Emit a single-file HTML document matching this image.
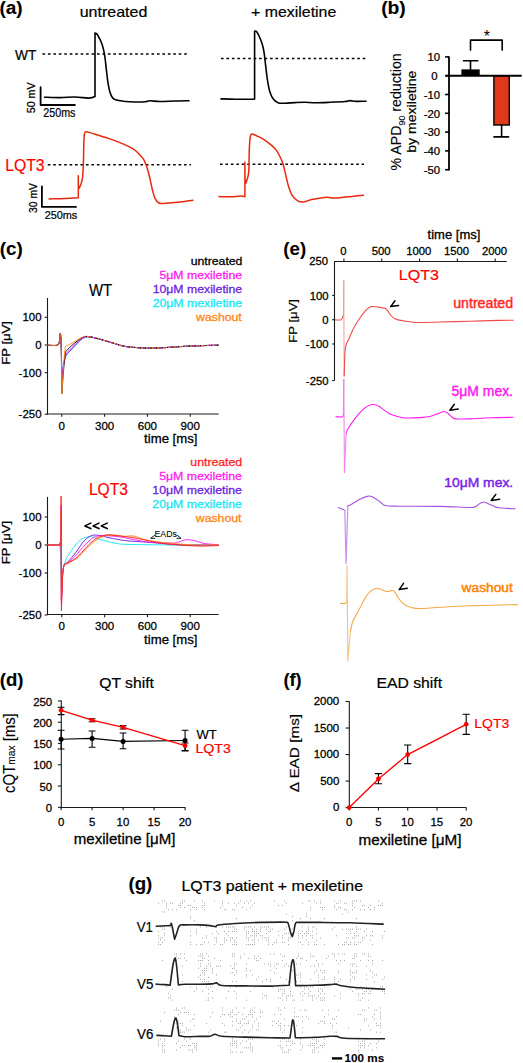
<!DOCTYPE html>
<html><head><meta charset="utf-8"><style>
html,body{margin:0;padding:0;background:#fff;}
svg{display:block;font-family:"Liberation Sans",sans-serif;}
</style></head><body>
<svg width="523" height="1063" viewBox="0 0 523 1063">
<text transform="translate(-0.55 14) scale(1.0395 1)" font-size="18.3" font-weight="bold" fill="#000" stroke="#000" stroke-width="0.10" >(a)</text>
<text transform="translate(79.66 16.55) scale(1.0704 1)" font-size="14.97" font-weight="normal" fill="#000" stroke="#000" stroke-width="0.20" >untreated</text>
<text transform="translate(251.11 16.55) scale(1.0613 1)" font-size="14.97" font-weight="normal" fill="#000" stroke="#000" stroke-width="0.20" >+ mexiletine</text>
<text transform="translate(15.03 59.95) scale(0.9615 1)" font-size="14.28" font-weight="normal" fill="#000" stroke="#000" stroke-width="0.20" >WT</text>
<text transform="translate(5.24 171.25) scale(0.9892 1)" font-size="15.93" font-weight="normal" fill="#ff0000" stroke="#ff0000" stroke-width="0.20" >LQT3</text>
<text transform="translate(43.36 116.65) scale(0.8662 1)" font-size="12.36" font-weight="normal" fill="#000" stroke="#000" stroke-width="0.22" >250ms</text>
<text transform="translate(44.66 218.95) scale(0.9227 1)" font-size="11.79" font-weight="normal" fill="#000" stroke="#000" stroke-width="0.23" >250ms</text>
<text transform="translate(34.9 113.23) rotate(-90) scale(1 0.9893)" font-size="10.69" font-weight="normal" fill="#000" stroke="#000" stroke-width="0.26">50 mV</text>
<text transform="translate(37.4 212.91) rotate(-90) scale(1 1.0506)" font-size="10.33" font-weight="normal" fill="#000" stroke="#000" stroke-width="0.26">30 mV</text>
<line x1="42.5" y1="54" x2="188" y2="54" stroke="#000" stroke-width="1.5" stroke-dasharray="2.6 2.85"/>
<line x1="221" y1="58.5" x2="366" y2="58.5" stroke="#000" stroke-width="1.5" stroke-dasharray="2.6 2.85"/>
<line x1="47.8" y1="164.8" x2="191" y2="164.8" stroke="#000" stroke-width="1.5" stroke-dasharray="2.6 2.85"/>
<line x1="220" y1="164.2" x2="364" y2="164.2" stroke="#000" stroke-width="1.5" stroke-dasharray="2.6 2.85"/>
<path d="M40.6 87.2L40.6 105L74.9 105" fill="none" stroke="#000" stroke-width="1.8" stroke-linejoin="round" stroke-linecap="round" />
<path d="M41.9 186.3L41.9 206.9L76 206.9" fill="none" stroke="#000" stroke-width="1.8" stroke-linejoin="round" stroke-linecap="round" />
<path d="M44.5 97.2C47.08 97.27 54.92 97.63 60 97.6C65.08 97.57 70.2 96.92 75 97C79.8 97.08 85.47 98.18 88.8 98.1C92.13 98.02 95 96.5 95 96.5C95 96.5 95 33.1 95 33.1C95 33.1 96.43 33.53 97 34.1C97.57 34.67 97.68 35.15 98.4 36.5C99.12 37.85 100.43 39.97 101.3 42.2C102.17 44.43 102.97 47.18 103.6 49.9C104.23 52.62 104.62 55 105.1 58.5C105.58 62 106.03 66.92 106.5 70.9C106.97 74.88 107.33 78.9 107.9 82.4C108.47 85.9 109.1 89.28 109.9 91.9C110.7 94.52 111.6 96.75 112.7 98.1C113.8 99.45 114.42 99.43 116.5 100C118.58 100.57 122.17 101.17 125.2 101.5C128.23 101.83 131.4 101.95 134.7 102C138 102.05 142.45 102 145 101.8C147.55 101.6 147.5 100.85 150 100.8C152.5 100.75 155.83 101.47 160 101.5C164.17 101.53 170.17 101.12 175 101C179.83 100.88 186.67 100.83 189 100.8" fill="none" stroke="#000" stroke-width="1.6" stroke-linejoin="round" stroke-linecap="round" />
<path d="M221 98.9C223.33 98.95 230.05 99.13 235 99.2C239.95 99.27 247.43 99.32 250.7 99.3C253.97 99.28 254.6 99.1 254.6 99.1C254.6 99.1 254.6 31.2 254.6 31.2C254.6 31.2 255.72 30.62 256.5 31.5C257.28 32.38 258.35 34.4 259.3 36.5C260.25 38.6 261.4 41.4 262.2 44.1C263 46.8 263.53 49.18 264.1 52.7C264.67 56.22 265.03 60.58 265.6 65.2C266.17 69.82 266.78 75.95 267.5 80.4C268.22 84.85 268.87 88.7 269.9 91.9C270.93 95.1 272.27 97.77 273.7 99.6C275.13 101.43 276.58 102.3 278.5 102.9C280.42 103.5 282.45 103.25 285.2 103.2C287.95 103.15 291.7 102.75 295 102.6C298.3 102.45 301.67 102.27 305 102.3C308.33 102.33 310.83 102.8 315 102.8C319.17 102.8 325 102.52 330 102.3C335 102.08 341.67 101.78 345 101.5C348.33 101.22 348.17 100.62 350 100.6C351.83 100.58 353.33 101.3 356 101.4C358.67 101.5 364.33 101.23 366 101.2" fill="none" stroke="#000" stroke-width="1.6" stroke-linejoin="round" stroke-linecap="round" />
<path d="M49.1 198.9C51.75 198.83 60.13 198.68 65 198.5C69.87 198.32 78.3 197.8 78.3 197.8C78.3 197.8 78.3 175.7 78.3 175.7C78.3 175.7 78.23 186.52 78.6 188.1C78.97 189.68 79.87 186.8 80.5 185.2C81.13 183.6 81.92 182.17 82.4 178.5C82.88 174.83 83.17 168.93 83.4 163.2C83.63 157.47 83.62 149.03 83.8 144.1C83.98 139.17 84.08 135.67 84.5 133.6C84.92 131.53 84.88 131.7 86.3 131.7C87.72 131.7 89.35 132.48 93 133.6C96.65 134.72 103.12 136.65 108.2 138.4C113.28 140.15 119.35 142.35 123.5 144.1C127.65 145.85 130.55 147.3 133.1 148.9C135.65 150.5 137.05 151.95 138.8 153.7C140.55 155.45 142.32 157.33 143.6 159.4C144.88 161.47 145.55 163.38 146.5 166.1C147.45 168.82 148.35 171.88 149.3 175.7C150.25 179.52 151.23 185.18 152.2 189C153.17 192.82 153.98 196.27 155.1 198.6C156.22 200.93 157.47 202.2 158.9 203C160.33 203.8 161.02 203.48 163.7 203.4C166.38 203.32 170.12 203.03 175 202.5C179.88 201.97 190 200.58 193 200.2" fill="none" stroke="#e6290f" stroke-width="1.5" stroke-linejoin="round" stroke-linecap="round" />
<path d="M219 196.6C220.83 196.63 226.38 196.88 230 196.8C233.62 196.72 238.22 196.12 240.7 196.1C243.18 196.08 244.9 196.7 244.9 196.7C244.9 196.7 244.9 162.3 244.9 162.3C244.9 162.3 244.88 179.7 245.3 182.4C245.72 185.1 246.82 180.42 247.4 178.5C247.98 176.58 248.48 175.67 248.8 170.9C249.12 166.13 249.05 155.63 249.3 149.9C249.55 144.17 249.82 139.15 250.3 136.5C250.78 133.85 251.25 134.17 252.2 134C253.15 133.83 254.08 134.62 256 135.5C257.92 136.38 261.15 137.7 263.7 139.3C266.25 140.9 269.23 143.33 271.3 145.1C273.37 146.87 274.67 148 276.1 149.9C277.53 151.8 278.78 154.28 279.9 156.5C281.02 158.72 281.83 160.17 282.8 163.2C283.77 166.23 284.75 170.87 285.7 174.7C286.65 178.53 287.38 182.7 288.5 186.2C289.62 189.7 290.8 193.22 292.4 195.7C294 198.18 296.2 200.07 298.1 201.1C300 202.13 301.57 202.15 303.8 201.9C306.03 201.65 308.95 200.22 311.5 199.6C314.05 198.98 316.55 198.58 319.1 198.2C321.65 197.82 324.15 197.33 326.8 197.3C329.45 197.27 331.97 198.05 335 198C338.03 197.95 342.17 197.25 345 197C347.83 196.75 348.92 196.78 352 196.5C355.08 196.22 361.58 195.5 363.5 195.3" fill="none" stroke="#e6290f" stroke-width="1.5" stroke-linejoin="round" stroke-linecap="round" />
<text transform="translate(381.13 14) scale(1.0558 1)" font-size="18.3" font-weight="bold" fill="#000" stroke="#000" stroke-width="0.10" >(b)</text>
<line x1="449" y1="56.5" x2="449" y2="170.4" stroke="#000" stroke-width="1.8" />
<line x1="445.1" y1="56.9" x2="449" y2="56.9" stroke="#000" stroke-width="1.6" />
<text transform="translate(427.51 61.12) scale(1.0385 1)" font-size="10.92" font-weight="normal" fill="#000" stroke="#000" stroke-width="0.25">10</text>
<line x1="445.1" y1="75.7" x2="449" y2="75.7" stroke="#000" stroke-width="1.6" />
<text transform="translate(431.3 79.92) scale(1.0385 1)" font-size="10.92" font-weight="normal" fill="#000" stroke="#000" stroke-width="0.25">0</text>
<line x1="445.1" y1="94.5" x2="449" y2="94.5" stroke="#000" stroke-width="1.6" />
<text transform="translate(423.71 98.72) scale(1.0385 1)" font-size="10.92" font-weight="normal" fill="#000" stroke="#000" stroke-width="0.25">-10</text>
<line x1="445.1" y1="113.3" x2="449" y2="113.3" stroke="#000" stroke-width="1.6" />
<text transform="translate(423.71 117.52) scale(1.0385 1)" font-size="10.92" font-weight="normal" fill="#000" stroke="#000" stroke-width="0.25">-20</text>
<line x1="445.1" y1="132.1" x2="449" y2="132.1" stroke="#000" stroke-width="1.6" />
<text transform="translate(423.71 136.32) scale(1.0385 1)" font-size="10.92" font-weight="normal" fill="#000" stroke="#000" stroke-width="0.25">-30</text>
<line x1="445.1" y1="150.9" x2="449" y2="150.9" stroke="#000" stroke-width="1.6" />
<text transform="translate(423.71 155.12) scale(1.0385 1)" font-size="10.92" font-weight="normal" fill="#000" stroke="#000" stroke-width="0.25">-40</text>
<line x1="445.1" y1="169.7" x2="449" y2="169.7" stroke="#000" stroke-width="1.6" />
<text transform="translate(423.71 173.92) scale(1.0385 1)" font-size="10.92" font-weight="normal" fill="#000" stroke="#000" stroke-width="0.25">-50</text>
<rect x="461.4" y="69.4" width="18.3" height="6.3" fill="#000"/>
<rect x="493.9" y="75.8" width="15.4" height="49.2" fill="#e0381c" stroke="#000" stroke-width="1.4"/>
<line x1="445.6" y1="75.8" x2="521.7" y2="75.8" stroke="#000" stroke-width="2" />
<path d="M470.5 69.4L470.5 60.7M463.5 60.7L477.8 60.7" fill="none" stroke="#000" stroke-width="1.6" stroke-linejoin="round" stroke-linecap="round" />
<path d="M501.6 125L501.6 136.9M494 136.9L508.6 136.9" fill="none" stroke="#000" stroke-width="1.6" stroke-linejoin="round" stroke-linecap="round" />
<path d="M470.5 50.1L470.5 40.1L502.2 40.1L502.2 50.1" fill="none" stroke="#000" stroke-width="1.6" stroke-linejoin="round" stroke-linecap="round" />
<text x="483.7" y="41.5" font-size="16">*</text>
<text transform="translate(400.7 170.4) rotate(-90)" font-size="14.2" stroke="#000" stroke-width="0.1"><tspan>% APD</tspan><tspan font-size="8.8" dy="4.7">90</tspan><tspan dy="-4.7"> reduction</tspan></text>
<text transform="translate(416.3 152.82) rotate(-90) scale(1 0.8709)" font-size="14.1" font-weight="normal" fill="#000" stroke="#000" stroke-width="0.20">by mexiletine</text>
<text transform="translate(-0.34 254.8) scale(1.0298 1)" font-size="18.3" font-weight="bold" fill="#000" stroke="#000" stroke-width="0.10" >(c)</text>
<text transform="translate(190.65 265) scale(1.1800 1)" font-size="10.4" font-weight="normal" fill="#000" stroke="#000" stroke-width="0.26">untreated</text>
<text transform="translate(159.48 278.98) scale(1.1800 1)" font-size="10.4" font-weight="normal" fill="#ff19f0" stroke="#ff19f0" stroke-width="0.26">5μM mexiletine</text>
<text transform="translate(152.67 292.96) scale(1.1800 1)" font-size="10.4" font-weight="normal" fill="#6a1de0" stroke="#6a1de0" stroke-width="0.26">10μM mexiletine</text>
<text transform="translate(152.67 306.94) scale(1.1800 1)" font-size="10.4" font-weight="normal" fill="#14e6f5" stroke="#14e6f5" stroke-width="0.26">20μM mexiletine</text>
<text transform="translate(196.11 320.92) scale(1.1800 1)" font-size="10.4" font-weight="normal" fill="#ff8418" stroke="#ff8418" stroke-width="0.26">washout</text>
<text transform="translate(88.93 295.55) scale(0.8751 1)" font-size="17.03" font-weight="normal" fill="#000" stroke="#000" stroke-width="0.20" >WT</text>
<line x1="47.5" y1="298" x2="47.5" y2="414.5" stroke="#1a1a1a" stroke-width="1.1" />
<line x1="47" y1="414" x2="218.6" y2="414" stroke="#1a1a1a" stroke-width="1.1" />
<line x1="44.7" y1="317.3" x2="47.5" y2="317.3" stroke="#1a1a1a" stroke-width="1.1" />
<text transform="translate(22.45 321.49) scale(1.0577 1)" font-size="10.82" font-weight="normal" fill="#000" stroke="#000" stroke-width="0.25">100</text>
<line x1="44.7" y1="345" x2="47.5" y2="345" stroke="#1a1a1a" stroke-width="1.1" />
<text transform="translate(35.15 349.19) scale(1.0577 1)" font-size="10.82" font-weight="normal" fill="#000" stroke="#000" stroke-width="0.25">0</text>
<line x1="44.7" y1="372.7" x2="47.5" y2="372.7" stroke="#1a1a1a" stroke-width="1.1" />
<text transform="translate(18.62 376.89) scale(1.0577 1)" font-size="10.82" font-weight="normal" fill="#000" stroke="#000" stroke-width="0.25">-100</text>
<line x1="44.7" y1="414.25" x2="47.5" y2="414.25" stroke="#1a1a1a" stroke-width="1.1" />
<text transform="translate(18.62 418.44) scale(1.0577 1)" font-size="10.82" font-weight="normal" fill="#000" stroke="#000" stroke-width="0.25">-250</text>
<line x1="61.8" y1="414" x2="61.8" y2="416.8" stroke="#1a1a1a" stroke-width="1.1" />
<text transform="translate(58.57 429.52) scale(1.0577 1)" font-size="10.92" font-weight="normal" fill="#000" stroke="#000" stroke-width="0.25">0</text>
<line x1="104.61" y1="414" x2="104.61" y2="416.8" stroke="#1a1a1a" stroke-width="1.1" />
<text transform="translate(94.97 429.52) scale(1.0577 1)" font-size="10.92" font-weight="normal" fill="#000" stroke="#000" stroke-width="0.25">300</text>
<line x1="147.42" y1="414" x2="147.42" y2="416.8" stroke="#1a1a1a" stroke-width="1.1" />
<text transform="translate(137.72 429.52) scale(1.0577 1)" font-size="10.92" font-weight="normal" fill="#000" stroke="#000" stroke-width="0.25">600</text>
<line x1="190.23" y1="414" x2="190.23" y2="416.8" stroke="#1a1a1a" stroke-width="1.1" />
<text transform="translate(180.56 429.52) scale(1.0577 1)" font-size="10.92" font-weight="normal" fill="#000" stroke="#000" stroke-width="0.25">900</text>
<text transform="translate(144.1 443.15) scale(1.0325 1)" font-size="12.76" font-weight="normal" fill="#000" stroke="#000" stroke-width="0.30" >time [ms]</text>
<text transform="translate(10.4 364.65) rotate(-90) scale(1 0.8639)" font-size="13.09" font-weight="normal" fill="#000" stroke="#000" stroke-width="0.35">FP [μV]</text>
<path d="M48 345.2C49.53 345.2 55.28 345.9 57.2 345.2C59.12 344.5 58.98 342.97 59.5 341C60.02 339.03 60.02 332.73 60.3 333.4C60.58 334.07 60.95 338.23 61.2 345C61.45 351.77 61.8 374 61.8 374C61.8 374 64.32 360.8 65.6 357.1C66.88 353.4 67.93 353.65 69.5 351.8C71.07 349.95 72.92 348.13 75 346C77.08 343.87 79.83 340.53 82 339C84.17 337.47 85.25 336.83 88 336.8C90.75 336.77 94.2 337.72 98.5 338.8C102.8 339.88 109.38 342.03 113.8 343.3C118.22 344.57 120.63 345.65 125 346.4C129.37 347.15 135.83 347.5 140 347.8C144.17 348.1 145.83 348.23 150 348.2C154.17 348.17 160 347.87 165 347.6C170 347.33 174.17 346.92 180 346.6C185.83 346.28 193.58 345.93 200 345.7C206.42 345.47 215.42 345.28 218.5 345.2" fill="none" stroke="#14e6f5" stroke-width="0.9" stroke-linejoin="round" stroke-linecap="round" />
<path d="M48 345.2C49.53 345.2 55.28 345.9 57.2 345.2C59.12 344.5 58.98 342.97 59.5 341C60.02 339.03 60.02 332.73 60.3 333.4C60.58 334.07 60.95 338.07 61.2 345C61.45 351.93 61.8 375 61.8 375C61.8 375 64.32 360.42 65.6 356.5C66.88 352.58 67.93 353.33 69.5 351.5C71.07 349.67 72.92 347.62 75 345.5C77.08 343.38 79.83 340.25 82 338.8C84.17 337.35 85.25 336.8 88 336.8C90.75 336.8 94.2 337.72 98.5 338.8C102.8 339.88 109.38 342.03 113.8 343.3C118.22 344.57 120.63 345.65 125 346.4C129.37 347.15 135.83 347.5 140 347.8C144.17 348.1 145.83 348.23 150 348.2C154.17 348.17 160 347.87 165 347.6C170 347.33 174.17 346.92 180 346.6C185.83 346.28 193.58 345.93 200 345.7C206.42 345.47 215.42 345.28 218.5 345.2" fill="none" stroke="#6a1de0" stroke-width="0.9" stroke-linejoin="round" stroke-linecap="round" />
<path d="M48 345.2C49.53 345.2 55.28 345.9 57.2 345.2C59.12 344.5 58.98 342.97 59.5 341C60.02 339.03 60.02 332.73 60.3 333.4C60.58 334.07 60.95 337.23 61.2 345C61.45 352.77 61.8 380 61.8 380C61.8 380 64 360.87 65.2 356C66.4 351.13 67.45 352.63 69 350.8C70.55 348.97 72.33 347.05 74.5 345C76.67 342.95 79.75 339.9 82 338.5C84.25 337.1 85.25 336.55 88 336.6C90.75 336.65 94.2 337.68 98.5 338.8C102.8 339.92 109.38 342.03 113.8 343.3C118.22 344.57 120.63 345.65 125 346.4C129.37 347.15 135.83 347.5 140 347.8C144.17 348.1 145.83 348.23 150 348.2C154.17 348.17 160 347.87 165 347.6C170 347.33 174.17 346.92 180 346.6C185.83 346.28 193.58 345.93 200 345.7C206.42 345.47 215.42 345.28 218.5 345.2" fill="none" stroke="#ff19f0" stroke-width="0.9" stroke-linejoin="round" stroke-linecap="round" />
<path d="M48 345.2C49.53 345.2 55.28 345.9 57.2 345.2C59.12 344.5 58.98 342.97 59.5 341C60.02 339.03 60.02 332.73 60.3 333.4C60.58 334.07 60.95 334.93 61.2 345C61.45 355.07 61.8 393.8 61.8 393.8C61.8 393.8 64 362.87 64.9 355.6C65.8 348.33 65.93 351.98 67.2 350.2C68.47 348.42 70.08 346.93 72.5 344.9C74.92 342.87 79.15 339.4 81.7 338C84.25 336.6 85 336.37 87.8 336.5C90.6 336.63 94.17 337.67 98.5 338.8C102.83 339.93 109.38 342.03 113.8 343.3C118.22 344.57 120.63 345.65 125 346.4C129.37 347.15 135.83 347.5 140 347.8C144.17 348.1 145.83 348.23 150 348.2C154.17 348.17 160 347.87 165 347.6C170 347.33 174.17 346.92 180 346.6C185.83 346.28 193.58 345.93 200 345.7C206.42 345.47 215.42 345.28 218.5 345.2" fill="none" stroke="#000" stroke-width="0.9" stroke-linejoin="round" stroke-linecap="round" />
<path d="M48 345.2C49.53 345.2 55.28 345.9 57.2 345.2C59.12 344.5 58.98 342.97 59.5 341C60.02 339.03 60.02 332.73 60.3 333.4C60.58 334.07 60.95 334.93 61.2 345C61.45 355.07 61.8 393.8 61.8 393.8C61.8 393.8 63.88 358.03 64.9 350C65.92 341.97 66.38 346.93 67.9 345.6C69.42 344.27 71.7 343.35 74 342C76.3 340.65 79.4 338.42 81.7 337.5C84 336.58 85 336.28 87.8 336.5C90.6 336.72 94.17 337.67 98.5 338.8C102.83 339.93 109.38 342.03 113.8 343.3C118.22 344.57 120.63 345.65 125 346.4C129.37 347.15 135.83 347.5 140 347.8C144.17 348.1 145.83 348.23 150 348.2C154.17 348.17 160 347.87 165 347.6C170 347.33 174.17 346.92 180 346.6C185.83 346.28 193.58 345.93 200 345.7C206.42 345.47 215.42 345.28 218.5 345.2" fill="none" stroke="#ff8418" stroke-width="0.9" stroke-linejoin="round" stroke-linecap="round" />
<clipPath id="wtclip"><rect x="84" y="300" width="140" height="60"/></clipPath>
<g clip-path="url(#wtclip)">
<path d="M48 345.2C49.53 345.2 55.28 345.9 57.2 345.2C59.12 344.5 58.98 342.97 59.5 341C60.02 339.03 60.02 332.73 60.3 333.4C60.58 334.07 60.95 338.23 61.2 345C61.45 351.77 61.8 374 61.8 374C61.8 374 64.32 360.8 65.6 357.1C66.88 353.4 67.93 353.65 69.5 351.8C71.07 349.95 72.92 348.13 75 346C77.08 343.87 79.83 340.53 82 339C84.17 337.47 85.25 336.83 88 336.8C90.75 336.77 94.2 337.72 98.5 338.8C102.8 339.88 109.38 342.03 113.8 343.3C118.22 344.57 120.63 345.65 125 346.4C129.37 347.15 135.83 347.5 140 347.8C144.17 348.1 145.83 348.23 150 348.2C154.17 348.17 160 347.87 165 347.6C170 347.33 174.17 346.92 180 346.6C185.83 346.28 193.58 345.93 200 345.7C206.42 345.47 215.42 345.28 218.5 345.2" fill="none" stroke="#14e6f5" stroke-width="1.2" stroke-linejoin="round" stroke-linecap="butt" stroke-dasharray="1.1 4.4" stroke-dashoffset="0"/>
<path d="M48 345.2C49.53 345.2 55.28 345.9 57.2 345.2C59.12 344.5 58.98 342.97 59.5 341C60.02 339.03 60.02 332.73 60.3 333.4C60.58 334.07 60.95 338.07 61.2 345C61.45 351.93 61.8 375 61.8 375C61.8 375 64.32 360.42 65.6 356.5C66.88 352.58 67.93 353.33 69.5 351.5C71.07 349.67 72.92 347.62 75 345.5C77.08 343.38 79.83 340.25 82 338.8C84.17 337.35 85.25 336.8 88 336.8C90.75 336.8 94.2 337.72 98.5 338.8C102.8 339.88 109.38 342.03 113.8 343.3C118.22 344.57 120.63 345.65 125 346.4C129.37 347.15 135.83 347.5 140 347.8C144.17 348.1 145.83 348.23 150 348.2C154.17 348.17 160 347.87 165 347.6C170 347.33 174.17 346.92 180 346.6C185.83 346.28 193.58 345.93 200 345.7C206.42 345.47 215.42 345.28 218.5 345.2" fill="none" stroke="#6a1de0" stroke-width="1.2" stroke-linejoin="round" stroke-linecap="butt" stroke-dasharray="1.1 4.4" stroke-dashoffset="1.1"/>
<path d="M48 345.2C49.53 345.2 55.28 345.9 57.2 345.2C59.12 344.5 58.98 342.97 59.5 341C60.02 339.03 60.02 332.73 60.3 333.4C60.58 334.07 60.95 337.23 61.2 345C61.45 352.77 61.8 380 61.8 380C61.8 380 64 360.87 65.2 356C66.4 351.13 67.45 352.63 69 350.8C70.55 348.97 72.33 347.05 74.5 345C76.67 342.95 79.75 339.9 82 338.5C84.25 337.1 85.25 336.55 88 336.6C90.75 336.65 94.2 337.68 98.5 338.8C102.8 339.92 109.38 342.03 113.8 343.3C118.22 344.57 120.63 345.65 125 346.4C129.37 347.15 135.83 347.5 140 347.8C144.17 348.1 145.83 348.23 150 348.2C154.17 348.17 160 347.87 165 347.6C170 347.33 174.17 346.92 180 346.6C185.83 346.28 193.58 345.93 200 345.7C206.42 345.47 215.42 345.28 218.5 345.2" fill="none" stroke="#ff19f0" stroke-width="1.2" stroke-linejoin="round" stroke-linecap="butt" stroke-dasharray="1.1 4.4" stroke-dashoffset="2.2"/>
<path d="M48 345.2C49.53 345.2 55.28 345.9 57.2 345.2C59.12 344.5 58.98 342.97 59.5 341C60.02 339.03 60.02 332.73 60.3 333.4C60.58 334.07 60.95 334.93 61.2 345C61.45 355.07 61.8 393.8 61.8 393.8C61.8 393.8 64 362.87 64.9 355.6C65.8 348.33 65.93 351.98 67.2 350.2C68.47 348.42 70.08 346.93 72.5 344.9C74.92 342.87 79.15 339.4 81.7 338C84.25 336.6 85 336.37 87.8 336.5C90.6 336.63 94.17 337.67 98.5 338.8C102.83 339.93 109.38 342.03 113.8 343.3C118.22 344.57 120.63 345.65 125 346.4C129.37 347.15 135.83 347.5 140 347.8C144.17 348.1 145.83 348.23 150 348.2C154.17 348.17 160 347.87 165 347.6C170 347.33 174.17 346.92 180 346.6C185.83 346.28 193.58 345.93 200 345.7C206.42 345.47 215.42 345.28 218.5 345.2" fill="none" stroke="#000" stroke-width="1.2" stroke-linejoin="round" stroke-linecap="butt" stroke-dasharray="1.1 4.4" stroke-dashoffset="3.3"/>
<path d="M48 345.2C49.53 345.2 55.28 345.9 57.2 345.2C59.12 344.5 58.98 342.97 59.5 341C60.02 339.03 60.02 332.73 60.3 333.4C60.58 334.07 60.95 334.93 61.2 345C61.45 355.07 61.8 393.8 61.8 393.8C61.8 393.8 63.88 358.03 64.9 350C65.92 341.97 66.38 346.93 67.9 345.6C69.42 344.27 71.7 343.35 74 342C76.3 340.65 79.4 338.42 81.7 337.5C84 336.58 85 336.28 87.8 336.5C90.6 336.72 94.17 337.67 98.5 338.8C102.83 339.93 109.38 342.03 113.8 343.3C118.22 344.57 120.63 345.65 125 346.4C129.37 347.15 135.83 347.5 140 347.8C144.17 348.1 145.83 348.23 150 348.2C154.17 348.17 160 347.87 165 347.6C170 347.33 174.17 346.92 180 346.6C185.83 346.28 193.58 345.93 200 345.7C206.42 345.47 215.42 345.28 218.5 345.2" fill="none" stroke="#ff8418" stroke-width="1.2" stroke-linejoin="round" stroke-linecap="butt" stroke-dasharray="1.1 4.4" stroke-dashoffset="4.4"/>
</g>
<text transform="translate(190.35 465.8) scale(1.1800 1)" font-size="10.4" font-weight="normal" fill="#ff1e1e" stroke="#ff1e1e" stroke-width="0.26">untreated</text>
<text transform="translate(159.18 479.78) scale(1.1800 1)" font-size="10.4" font-weight="normal" fill="#ff19f0" stroke="#ff19f0" stroke-width="0.26">5μM mexiletine</text>
<text transform="translate(152.37 493.76) scale(1.1800 1)" font-size="10.4" font-weight="normal" fill="#6a1de0" stroke="#6a1de0" stroke-width="0.26">10μM mexiletine</text>
<text transform="translate(152.37 507.74) scale(1.1800 1)" font-size="10.4" font-weight="normal" fill="#14e6f5" stroke="#14e6f5" stroke-width="0.26">20μM mexiletine</text>
<text transform="translate(195.81 521.72) scale(1.1800 1)" font-size="10.4" font-weight="normal" fill="#ff8418" stroke="#ff8418" stroke-width="0.26">washout</text>
<text transform="translate(88.95 495.05) scale(0.9786 1)" font-size="15.93" font-weight="normal" fill="#ff0000" stroke="#ff0000" stroke-width="0.20" >LQT3</text>
<line x1="47.5" y1="496.9" x2="47.5" y2="615" stroke="#1a1a1a" stroke-width="1.1" />
<line x1="47" y1="614.5" x2="218.6" y2="614.5" stroke="#1a1a1a" stroke-width="1.1" />
<line x1="44.7" y1="517" x2="47.5" y2="517" stroke="#1a1a1a" stroke-width="1.1" />
<text transform="translate(22.45 521.19) scale(1.0577 1)" font-size="10.82" font-weight="normal" fill="#000" stroke="#000" stroke-width="0.25">100</text>
<line x1="44.7" y1="545" x2="47.5" y2="545" stroke="#1a1a1a" stroke-width="1.1" />
<text transform="translate(35.15 549.19) scale(1.0577 1)" font-size="10.82" font-weight="normal" fill="#000" stroke="#000" stroke-width="0.25">0</text>
<line x1="44.7" y1="573" x2="47.5" y2="573" stroke="#1a1a1a" stroke-width="1.1" />
<text transform="translate(18.62 577.19) scale(1.0577 1)" font-size="10.82" font-weight="normal" fill="#000" stroke="#000" stroke-width="0.25">-100</text>
<line x1="44.7" y1="615" x2="47.5" y2="615" stroke="#1a1a1a" stroke-width="1.1" />
<text transform="translate(18.62 619.19) scale(1.0577 1)" font-size="10.82" font-weight="normal" fill="#000" stroke="#000" stroke-width="0.25">-250</text>
<line x1="61.8" y1="614.5" x2="61.8" y2="617.3" stroke="#1a1a1a" stroke-width="1.1" />
<text transform="translate(58.57 630.02) scale(1.0577 1)" font-size="10.92" font-weight="normal" fill="#000" stroke="#000" stroke-width="0.25">0</text>
<line x1="104.61" y1="614.5" x2="104.61" y2="617.3" stroke="#1a1a1a" stroke-width="1.1" />
<text transform="translate(94.97 630.02) scale(1.0577 1)" font-size="10.92" font-weight="normal" fill="#000" stroke="#000" stroke-width="0.25">300</text>
<line x1="147.42" y1="614.5" x2="147.42" y2="617.3" stroke="#1a1a1a" stroke-width="1.1" />
<text transform="translate(137.72 630.02) scale(1.0577 1)" font-size="10.92" font-weight="normal" fill="#000" stroke="#000" stroke-width="0.25">600</text>
<line x1="190.23" y1="614.5" x2="190.23" y2="617.3" stroke="#1a1a1a" stroke-width="1.1" />
<text transform="translate(180.56 630.02) scale(1.0577 1)" font-size="10.92" font-weight="normal" fill="#000" stroke="#000" stroke-width="0.25">900</text>
<text transform="translate(144.1 643.65) scale(1.0325 1)" font-size="12.76" font-weight="normal" fill="#000" stroke="#000" stroke-width="0.30" >time [ms]</text>
<text transform="translate(10.4 564.34) rotate(-90) scale(1 0.8659)" font-size="13.06" font-weight="normal" fill="#000" stroke="#000" stroke-width="0.35">FP [μV]</text>
<path d="M48 545C49.8 545 56.75 544.1 58.8 545C60.85 545.9 60.05 550.23 60.3 550.4C60.55 550.57 60.12 539.4 60.3 546C60.48 552.6 61.4 590 61.4 590C61.4 590 62.6 575 62.6 575C62.6 575 63.22 568.2 64.1 565C64.98 561.8 65.98 559.13 67.9 555.8C69.82 552.47 73.3 547.8 75.6 545C77.9 542.2 79.92 540.27 81.7 539C83.48 537.73 84.77 537.8 86.3 537.4C87.83 537 89.12 536.4 90.9 536.6C92.68 536.8 94.45 537.83 97 538.6C99.55 539.37 102.88 540.38 106.2 541.2C109.52 542.02 113.77 542.98 116.9 543.5C120.03 544.02 120.15 544.1 125 544.3C129.85 544.5 136.83 544.57 146 544.7C155.17 544.83 167.93 545.05 180 545.1C192.07 545.15 212 545.02 218.4 545" fill="none" stroke="#14e6f5" stroke-width="0.95" stroke-linejoin="round" stroke-linecap="round" />
<path d="M48 545C49.8 545 56.62 545 58.8 545C60.98 545 61.1 545 61.1 545C61.1 545 61.1 520 61.1 520C61.1 520 61.4 600 61.4 600C61.4 600 62.6 575 62.6 575C62.6 575 63.22 567.18 64.1 565C64.98 562.82 65.98 563.95 67.9 561.9C69.82 559.85 73.05 556.02 75.6 552.7C78.15 549.38 80.92 544.68 83.2 542C85.48 539.32 87.52 537.75 89.3 536.6C91.08 535.45 92.12 535.27 93.9 535.1C95.68 534.93 97.45 535.17 100 535.6C102.55 536.03 105.12 536.88 109.2 537.7C113.28 538.52 118.37 539.77 124.5 540.5C130.63 541.23 136.75 541.4 146 542.1C155.25 542.8 167.93 544.22 180 544.7C192.07 545.18 212 544.95 218.4 545" fill="none" stroke="#6a1de0" stroke-width="0.95" stroke-linejoin="round" stroke-linecap="round" />
<path d="M48 545C49.8 545 56.62 545 58.8 545C60.98 545 61.1 545 61.1 545C61.1 545 61.1 505 61.1 505C61.1 505 61.4 605 61.4 605C61.4 605 62.6 575 62.6 575C62.6 575 63.22 567.07 64.1 565C64.98 562.93 65.98 564.13 67.9 562.6C69.82 561.07 72.78 558.73 75.6 555.8C78.42 552.87 82 547.93 84.8 545C87.6 542.07 90.12 539.72 92.4 538.2C94.68 536.68 96.2 536.33 98.5 535.9C100.8 535.47 103.13 535.48 106.2 535.6C109.27 535.72 113.85 536.25 116.9 536.6C119.95 536.95 119.65 536.85 124.5 537.7C129.35 538.55 138.42 540.8 146 541.7C153.58 542.6 164.63 543.03 170 543.1C175.37 543.17 175.48 542.67 178.2 542.1C180.92 541.53 183.28 539.87 186.3 539.7C189.32 539.53 193.3 540.47 196.3 541.1C199.3 541.73 200.62 542.9 204.3 543.5C207.98 544.1 216.05 544.5 218.4 544.7" fill="none" stroke="#ff19f0" stroke-width="0.95" stroke-linejoin="round" stroke-linecap="round" />
<path d="M48 545C49.8 545 56.62 545 58.8 545C60.98 545 61.1 545 61.1 545C61.1 545 61.1 510 61.1 510C61.1 510 61.4 600 61.4 600C61.4 600 62.6 575 62.6 575C62.6 575 63.22 567.07 64.1 565C64.98 562.93 65.73 563.77 67.9 562.6C70.07 561.43 74.03 560.28 77.1 558C80.17 555.72 83.23 551.82 86.3 548.9C89.37 545.98 92.7 542.55 95.5 540.5C98.3 538.45 100.82 537.5 103.1 536.6C105.38 535.7 106.65 535.3 109.2 535.1C111.75 534.9 115.85 535.2 118.4 535.4C120.95 535.6 121.88 536.18 124.5 536.3C127.12 536.42 130.5 535.47 134.1 536.1C137.7 536.73 141.75 539.1 146.1 540.1C150.45 541.1 154.52 541.43 160.2 542.1C165.88 542.77 173.52 543.6 180.2 544.1C186.88 544.6 193.93 545 200.3 545.1C206.67 545.2 215.38 544.77 218.4 544.7" fill="none" stroke="#ff8418" stroke-width="0.95" stroke-linejoin="round" stroke-linecap="round" />
<path d="M48 545C49.8 545 56.88 545.37 58.8 545C60.72 544.63 59.12 542.8 59.5 542.8C59.88 542.8 61.1 545 61.1 545C61.1 545 61.1 496.1 61.1 496.1C61.1 496.1 61.4 610.8 61.4 610.8C61.4 610.8 62.6 575 62.6 575C62.6 575 63.22 566.93 64.1 565C64.98 563.07 65.73 564.68 67.9 563.4C70.07 562.12 74.03 559.98 77.1 557.3C80.17 554.62 83.23 550.37 86.3 547.3C89.37 544.23 92.7 540.85 95.5 538.9C98.3 536.95 100.82 536.28 103.1 535.6C105.38 534.92 106.65 534.75 109.2 534.8C111.75 534.85 115.85 535.6 118.4 535.9C120.95 536.2 122.23 536.33 124.5 536.6C126.77 536.87 128.4 536.92 132 537.5C135.6 538.08 141.4 539.17 146.1 540.1C150.8 541.03 154.52 542.27 160.2 543.1C165.88 543.93 173.52 544.6 180.2 545.1C186.88 545.6 193.93 546.03 200.3 546.1C206.67 546.17 215.38 545.6 218.4 545.5" fill="none" stroke="#ff2020" stroke-width="0.95" stroke-linejoin="round" stroke-linecap="round" />
<path d="M90.8 523.1L84.9 525.9L90.8 528.6" fill="none" stroke="#000" stroke-width="1.6" stroke-linejoin="round" stroke-linecap="round" />
<path d="M99 523.1L93.1 525.9L99 528.6" fill="none" stroke="#000" stroke-width="1.6" stroke-linejoin="round" stroke-linecap="round" />
<path d="M107.2 523.1L101.3 525.9L107.2 528.6" fill="none" stroke="#000" stroke-width="1.6" stroke-linejoin="round" stroke-linecap="round" />
<text transform="translate(154.5 537.35) scale(0.9339 1)" font-size="9.35" font-weight="normal" fill="#000" stroke="#000" stroke-width="0.08" >EADs</text>
<path d="M154.6 535.3L150.7 538.3L154.8 538.3" fill="none" stroke="#000" stroke-width="0.9" stroke-linejoin="round" stroke-linecap="round" />
<path d="M177.2 535.3L181.1 538.3L177 538.3" fill="none" stroke="#000" stroke-width="0.9" stroke-linejoin="round" stroke-linecap="round" />
<text transform="translate(283.37 254.8) scale(1.0200 1)" font-size="18.3" font-weight="bold" fill="#000" stroke="#000" stroke-width="0.10" >(e)</text>
<line x1="334" y1="261.5" x2="506.8" y2="261.5" stroke="#1a1a1a" stroke-width="1.1" />
<line x1="334.5" y1="261.5" x2="334.5" y2="380.6" stroke="#1a1a1a" stroke-width="1.1" />
<line x1="343.9" y1="258.6" x2="343.9" y2="261.5" stroke="#1a1a1a" stroke-width="1.1" />
<text transform="translate(340.13 254.68) scale(1.0769 1)" font-size="10.5" font-weight="normal" fill="#000" stroke="#000" stroke-width="0.26">0</text>
<line x1="381.72" y1="258.6" x2="381.72" y2="261.5" stroke="#1a1a1a" stroke-width="1.1" />
<text transform="translate(371.68 254.68) scale(1.0769 1)" font-size="10.5" font-weight="normal" fill="#000" stroke="#000" stroke-width="0.26">500</text>
<line x1="419.55" y1="258.6" x2="419.55" y2="261.5" stroke="#1a1a1a" stroke-width="1.1" />
<text transform="translate(406.14 254.68) scale(1.0769 1)" font-size="10.5" font-weight="normal" fill="#000" stroke="#000" stroke-width="0.26">1000</text>
<line x1="457.38" y1="258.6" x2="457.38" y2="261.5" stroke="#1a1a1a" stroke-width="1.1" />
<text transform="translate(443.96 254.68) scale(1.0769 1)" font-size="10.5" font-weight="normal" fill="#000" stroke="#000" stroke-width="0.26">1500</text>
<line x1="495.2" y1="258.6" x2="495.2" y2="261.5" stroke="#1a1a1a" stroke-width="1.1" />
<text transform="translate(481.93 254.68) scale(1.0769 1)" font-size="10.5" font-weight="normal" fill="#000" stroke="#000" stroke-width="0.26">2000</text>
<text transform="translate(427.6 239.15) scale(1.0098 1)" font-size="12.9" font-weight="normal" fill="#000" stroke="#000" stroke-width="0.30" >time [ms]</text>
<text transform="translate(309.26 265.48) scale(1.0769 1)" font-size="10.5" font-weight="normal" fill="#000" stroke="#000" stroke-width="0.26">250</text>
<line x1="332.2" y1="295.45" x2="334.5" y2="295.45" stroke="#1a1a1a" stroke-width="1.1" />
<text transform="translate(309.66 299.53) scale(1.0769 1)" font-size="10.5" font-weight="normal" fill="#000" stroke="#000" stroke-width="0.26">100</text>
<line x1="332.2" y1="319.7" x2="334.5" y2="319.7" stroke="#1a1a1a" stroke-width="1.1" />
<text transform="translate(322.22 323.78) scale(1.0769 1)" font-size="10.5" font-weight="normal" fill="#000" stroke="#000" stroke-width="0.26">0</text>
<line x1="332.2" y1="343.95" x2="334.5" y2="343.95" stroke="#1a1a1a" stroke-width="1.1" />
<text transform="translate(305.87 348.03) scale(1.0769 1)" font-size="10.5" font-weight="normal" fill="#000" stroke="#000" stroke-width="0.26">-100</text>
<line x1="332.2" y1="380.6" x2="334.5" y2="380.6" stroke="#1a1a1a" stroke-width="1.1" />
<text transform="translate(305.87 384.68) scale(1.0769 1)" font-size="10.5" font-weight="normal" fill="#000" stroke="#000" stroke-width="0.26">-250</text>
<text transform="translate(297.4 342.65) rotate(-90) scale(1 0.8428)" font-size="13.09" font-weight="normal" fill="#000" stroke="#000" stroke-width="0.21">FP [μV]</text>
<text transform="translate(398.82 279.95) scale(1.0961 1)" font-size="14.64" font-weight="normal" fill="#ff0000" stroke="#ff0000" stroke-width="0.20" >LQT3</text>
<text transform="translate(453.18 307.75) scale(1.0235 1)" font-size="13.86" font-weight="normal" fill="#ff2a2a" stroke="#ff2a2a" stroke-width="0.45" >untreated</text>
<text transform="translate(451.54 396.35) scale(0.9294 1)" font-size="15" font-weight="normal" fill="#ff19f0" stroke="#ff19f0" stroke-width="0.45" >5μM mex.</text>
<text transform="translate(444.26 487.35) scale(1.0293 1)" font-size="13.5" font-weight="normal" fill="#7a1ee8" stroke="#7a1ee8" stroke-width="0.45" >10μM mex.</text>
<text transform="translate(461.6 591.55) scale(1.0666 1)" font-size="12.9" font-weight="normal" fill="#ff8000" stroke="#ff8000" stroke-width="0.45" >washout</text>
<path d="M395 300.8 L390.6 306.6 L398.6 305.4" fill="none" stroke="#000" stroke-width="1.5" stroke-linejoin="round" stroke-linecap="round" />
<path d="M454.3 404.3 L449.9 410.3 L458.2 409" fill="none" stroke="#000" stroke-width="1.5" stroke-linejoin="round" stroke-linecap="round" />
<path d="M495.8 494.4 L491.2 500.5 L499.6 499.3" fill="none" stroke="#000" stroke-width="1.5" stroke-linejoin="round" stroke-linecap="round" />
<path d="M403.5 583.4 L399.2 589.6 L407.3 588.2" fill="none" stroke="#000" stroke-width="1.5" stroke-linejoin="round" stroke-linecap="round" />
<path d="M335.5 319.9C336.38 319.9 339.62 320.3 340.8 319.9C341.98 319.5 342.15 318.32 342.6 317.5C343.05 316.68 343.35 315.42 343.5 315" fill="none" stroke="#f04a4a" stroke-width="1.1" stroke-linejoin="round" stroke-linecap="round" />
<path d="M343.5 315L343.8 280.4L344.1 376" fill="none" stroke="#f59a9a" stroke-width="1" stroke-linejoin="round" stroke-linecap="round" />
<path d="M344.2 376C344.2 376 344.67 357.25 345 352C345.33 346.75 345.45 346.92 346.2 344.5C346.95 342.08 348.37 340.02 349.5 337.5C350.63 334.98 351.53 332.28 353 329.4C354.47 326.52 356.38 323.13 358.3 320.2C360.22 317.27 362.7 313.92 364.5 311.8C366.3 309.68 367.83 308.38 369.1 307.5C370.37 306.62 370.83 306.62 372.1 306.5C373.37 306.38 375.17 306.6 376.7 306.8C378.23 307 379.9 307.45 381.3 307.7C382.7 307.95 384.08 307.87 385.1 308.3C386.12 308.73 386.5 309.2 387.4 310.3C388.3 311.4 389.48 313.63 390.5 314.9C391.52 316.17 392.23 317.07 393.5 317.9C394.77 318.73 396.05 319.33 398.1 319.9C400.15 320.47 403.25 320.92 405.8 321.3C408.35 321.68 411.03 322 413.4 322.2C415.77 322.4 415.57 322.53 420 322.5C424.43 322.47 431.67 322.22 440 322C448.33 321.78 461.67 321.43 470 321.2C478.33 320.97 482.8 320.77 490 320.6C497.2 320.43 509.33 320.27 513.2 320.2" fill="none" stroke="#f04a4a" stroke-width="1.1" stroke-linejoin="round" stroke-linecap="round" />
<path d="M335.9 416.8C337 416.8 341.25 417.18 342.5 416.8C343.75 416.42 343.25 414.88 343.4 414.5" fill="none" stroke="#ff19f0" stroke-width="1.1" stroke-linejoin="round" stroke-linecap="round" />
<path d="M343.4 414.5L343.8 379L344.4 472.8L346.2 433" fill="none" stroke="#f27af0" stroke-width="1" stroke-linejoin="round" stroke-linecap="round" />
<path d="M346.2 433C346.2 433 346.72 430.7 348.4 428C350.08 425.3 353.67 420.08 356.3 416.8C358.93 413.52 361.78 410.32 364.2 408.3C366.62 406.28 368.83 405.25 370.8 404.7C372.77 404.15 374.47 404.62 376 405C377.53 405.38 377.75 405.55 380 407C382.25 408.45 386.5 412.12 389.5 413.7C392.5 415.28 395.15 415.78 398 416.5C400.85 417.22 402.93 417.82 406.6 418C410.27 418.18 416.1 417.85 420 417.6C423.9 417.35 427.17 417.1 430 416.5C432.83 415.9 434.77 414.83 437 414C439.23 413.17 441.65 411.67 443.4 411.5C445.15 411.33 446.23 412.2 447.5 413C448.77 413.8 449.87 415.37 451 416.3C452.13 417.23 452.8 418.15 454.3 418.6C455.8 419.05 457.38 418.95 460 419C462.62 419.05 465 419.1 470 418.9C475 418.7 482.83 418.07 490 417.8C497.17 417.53 509.17 417.38 513 417.3" fill="none" stroke="#ff19f0" stroke-width="1.1" stroke-linejoin="round" stroke-linecap="round" />
<path d="M338.4 507.6C339.2 507.93 342.1 509.12 343.2 509.6C344.3 510.08 344.7 510.35 345 510.5" fill="none" stroke="#a850e0" stroke-width="1.1" stroke-linejoin="round" stroke-linecap="round" />
<path d="M344.8 510.5L346.1 563.7L347.8 506" fill="none" stroke="#c890f0" stroke-width="1.2" stroke-linejoin="round" stroke-linecap="round" />
<path d="M347.6 506C347.6 506 350.28 504.85 352.4 503.7C354.52 502.55 357.67 500.37 360.3 499.1C362.93 497.83 366.23 496.48 368.2 496.1C370.17 495.72 370.13 495.87 372.1 496.8C374.07 497.73 377.8 500.25 380 501.7C382.2 503.15 381.97 504.75 385.3 505.5C388.63 506.25 390.88 506.05 400 506.2C409.12 506.35 428.33 506.18 440 506.4C451.67 506.62 464.05 507.48 470 507.5C475.95 507.52 474.1 507.15 475.7 506.5C477.3 505.85 478.32 504.35 479.6 503.6C480.88 502.85 482.13 502.07 483.4 502C484.67 501.93 485.6 502.57 487.2 503.2C488.8 503.83 491.08 505.03 493 505.8C494.92 506.57 496.17 507.37 498.7 507.8C501.23 508.23 505.5 508.22 508.2 508.4C510.9 508.58 513.78 508.82 514.9 508.9" fill="none" stroke="#a850e0" stroke-width="1.1" stroke-linejoin="round" stroke-linecap="round" />
<path d="M340.5 603.3C341.33 603.3 344.45 603.68 345.5 603.3C346.55 602.92 346.58 601.38 346.8 601" fill="none" stroke="#f5a845" stroke-width="1.1" stroke-linejoin="round" stroke-linecap="round" />
<path d="M346.8 601L347.1 565.8L347.8 661L350.3 632" fill="none" stroke="#f7c080" stroke-width="1.1" stroke-linejoin="round" stroke-linecap="round" />
<path d="M350.3 632C350.3 632 350.9 628.42 351.4 626.5C351.9 624.58 351.92 623.52 353.3 620.5C354.68 617.48 357.92 611.82 359.7 608.4C361.48 604.98 362.58 602.48 364 600C365.42 597.52 366.72 595.2 368.2 593.5C369.68 591.8 371.48 590.68 372.9 589.8C374.32 588.92 375.43 588.32 376.7 588.2C377.97 588.08 379.07 588.58 380.5 589.1C381.93 589.62 383.87 590.93 385.3 591.3C386.73 591.67 387.83 591.47 389.1 591.3C390.37 591.13 391.93 590.15 392.9 590.3C393.87 590.45 394.1 591.08 394.9 592.2C395.7 593.32 396.6 595.4 397.7 597C398.8 598.6 400.07 600.37 401.5 601.8C402.93 603.23 404.53 604.62 406.3 605.6C408.07 606.58 409.82 607.22 412.1 607.7C414.38 608.18 415.35 608.57 420 608.5C424.65 608.43 431.67 607.75 440 607.3C448.33 606.85 457.08 606.25 470 605.8C482.92 605.35 509.58 604.8 517.5 604.6" fill="none" stroke="#f5a845" stroke-width="1.1" stroke-linejoin="round" stroke-linecap="round" />
<text transform="translate(-0.33 686) scale(1.0188 1)" font-size="18.3" font-weight="bold" fill="#000" stroke="#000" stroke-width="0.10" >(d)</text>
<text transform="translate(99.19 687.85) scale(1.1224 1)" font-size="14" font-weight="normal" fill="#000" stroke="#000" stroke-width="0.20" >QT shift</text>
<line x1="61.3" y1="700.6" x2="61.3" y2="807.8" stroke="#1a1a1a" stroke-width="1.1" />
<line x1="60.8" y1="807.5" x2="185.4" y2="807.5" stroke="#1a1a1a" stroke-width="1.1" />
<line x1="57.9" y1="807.3" x2="61.3" y2="807.3" stroke="#1a1a1a" stroke-width="1.1" />
<text transform="translate(45.85 811.99) scale(1.0577 1)" font-size="10.82" font-weight="normal" fill="#000" stroke="#000" stroke-width="0.25">0</text>
<line x1="57.9" y1="786.03" x2="61.3" y2="786.03" stroke="#1a1a1a" stroke-width="1.1" />
<text transform="translate(39.5 790.72) scale(1.0577 1)" font-size="10.82" font-weight="normal" fill="#000" stroke="#000" stroke-width="0.25">50</text>
<line x1="57.9" y1="764.77" x2="61.3" y2="764.77" stroke="#1a1a1a" stroke-width="1.1" />
<text transform="translate(33.15 769.46) scale(1.0577 1)" font-size="10.82" font-weight="normal" fill="#000" stroke="#000" stroke-width="0.25">100</text>
<line x1="57.9" y1="743.5" x2="61.3" y2="743.5" stroke="#1a1a1a" stroke-width="1.1" />
<text transform="translate(33.15 748.19) scale(1.0577 1)" font-size="10.82" font-weight="normal" fill="#000" stroke="#000" stroke-width="0.25">150</text>
<line x1="57.9" y1="722.24" x2="61.3" y2="722.24" stroke="#1a1a1a" stroke-width="1.1" />
<text transform="translate(33.15 726.93) scale(1.0577 1)" font-size="10.82" font-weight="normal" fill="#000" stroke="#000" stroke-width="0.25">200</text>
<line x1="57.9" y1="700.97" x2="61.3" y2="700.97" stroke="#1a1a1a" stroke-width="1.1" />
<text transform="translate(33.15 705.66) scale(1.0577 1)" font-size="10.82" font-weight="normal" fill="#000" stroke="#000" stroke-width="0.25">250</text>
<line x1="61.1" y1="807.5" x2="61.1" y2="810.3" stroke="#1a1a1a" stroke-width="1.1" />
<text transform="translate(57.9 825.99) scale(1.0577 1)" font-size="10.82" font-weight="normal" fill="#000" stroke="#000" stroke-width="0.25">0</text>
<line x1="92.1" y1="807.5" x2="92.1" y2="810.3" stroke="#1a1a1a" stroke-width="1.1" />
<text transform="translate(88.93 825.93) scale(1.0577 1)" font-size="10.82" font-weight="normal" fill="#000" stroke="#000" stroke-width="0.25">5</text>
<line x1="123.1" y1="807.5" x2="123.1" y2="810.3" stroke="#1a1a1a" stroke-width="1.1" />
<text transform="translate(116.52 825.99) scale(1.0577 1)" font-size="10.82" font-weight="normal" fill="#000" stroke="#000" stroke-width="0.25">10</text>
<line x1="154.1" y1="807.5" x2="154.1" y2="810.3" stroke="#1a1a1a" stroke-width="1.1" />
<text transform="translate(147.55 825.93) scale(1.0577 1)" font-size="10.82" font-weight="normal" fill="#000" stroke="#000" stroke-width="0.25">15</text>
<line x1="185.1" y1="807.5" x2="185.1" y2="810.3" stroke="#1a1a1a" stroke-width="1.1" />
<text transform="translate(178.66 825.99) scale(1.0577 1)" font-size="10.82" font-weight="normal" fill="#000" stroke="#000" stroke-width="0.25">20</text>
<text transform="translate(73.82 844.45) scale(0.9795 1)" font-size="15.38" font-weight="normal" fill="#000" stroke="#000" stroke-width="0.30" >mexiletine [μM]</text>
<text transform="translate(14.8 792.9) rotate(-90) scale(1 1.08)" font-size="14.9" stroke="#000" stroke-width="0.1"><tspan>cQT</tspan><tspan font-size="10.2">max</tspan><tspan> [ms]</tspan></text>
<polyline points="61.1,739.25 92.1,738.4 123.1,741.38 185.1,740.53" fill="none" stroke="#000" stroke-width="1.15"/>
<path d="M61.1 749 L61.1 730.2 M58.1 749 L64.1 749 M58.1 730.2 L64.1 730.2" fill="none" stroke="#000" stroke-width="1.1" stroke-linejoin="round" stroke-linecap="round" />
<path d="M92.1 747.3 L92.1 731 M89.1 747.3 L95.1 747.3 M89.1 731 L95.1 731" fill="none" stroke="#000" stroke-width="1.1" stroke-linejoin="round" stroke-linecap="round" />
<path d="M123.1 748.8 L123.1 733 M120.1 748.8 L126.1 748.8 M120.1 733 L126.1 733" fill="none" stroke="#000" stroke-width="1.1" stroke-linejoin="round" stroke-linecap="round" />
<path d="M185.1 750.5 L185.1 730.3 M182.1 750.5 L188.1 750.5 M182.1 730.3 L188.1 730.3" fill="none" stroke="#000" stroke-width="1.1" stroke-linejoin="round" stroke-linecap="round" />
<path d="M61.1 714.6 L61.1 707.2 M58.1 714.6 L64.1 714.6 M58.1 707.2 L64.1 707.2" fill="none" stroke="#000" stroke-width="1.1" stroke-linejoin="round" stroke-linecap="round" />
<path d="M92.1 721.8 L92.1 718.7 M89.1 721.8 L95.1 721.8 M89.1 718.7 L95.1 718.7" fill="none" stroke="#000" stroke-width="1.1" stroke-linejoin="round" stroke-linecap="round" />
<path d="M123.1 729 L123.1 725.6 M120.1 729 L126.1 729 M120.1 725.6 L126.1 725.6" fill="none" stroke="#000" stroke-width="1.1" stroke-linejoin="round" stroke-linecap="round" />
<path d="M185.1 750.9 L185.1 743 M182.1 750.9 L188.1 750.9 M182.1 743 L188.1 743" fill="none" stroke="#000" stroke-width="1.1" stroke-linejoin="round" stroke-linecap="round" />
<circle cx="61.1" cy="739.25" r="2.5" fill="#000"/>
<circle cx="92.1" cy="738.4" r="2.5" fill="#000"/>
<circle cx="123.1" cy="741.38" r="2.5" fill="#000"/>
<circle cx="185.1" cy="740.53" r="2.5" fill="#000"/>
<polyline points="61.1,710.33 92.1,720.11 123.1,727.34 185.1,745.63" fill="none" stroke="#ff0000" stroke-width="1.35"/>
<circle cx="61.1" cy="710.33" r="2.4" fill="#ff0000"/>
<circle cx="92.1" cy="720.11" r="2.4" fill="#ff0000"/>
<circle cx="123.1" cy="727.34" r="2.4" fill="#ff0000"/>
<circle cx="185.1" cy="745.63" r="2.4" fill="#ff0000"/>
<text transform="translate(196.53 738.75) scale(0.9647 1)" font-size="13.55" font-weight="normal" fill="#000" stroke="#000" stroke-width="0.20" >WT</text>
<text transform="translate(195.46 753.45) scale(1.0865 1)" font-size="13.07" font-weight="normal" fill="#ff0000" stroke="#ff0000" stroke-width="0.21" >LQT3</text>
<text transform="translate(283.38 686) scale(1.0018 1)" font-size="18.3" font-weight="bold" fill="#000" stroke="#000" stroke-width="0.10" >(f)</text>
<text transform="translate(376.54 687.85) scale(1.1130 1)" font-size="14.14" font-weight="normal" fill="#000" stroke="#000" stroke-width="0.20" >EAD shift</text>
<line x1="349.3" y1="701.2" x2="349.3" y2="808" stroke="#1a1a1a" stroke-width="1.1" />
<line x1="348.8" y1="807.5" x2="466.2" y2="807.5" stroke="#1a1a1a" stroke-width="1.1" />
<line x1="345.6" y1="807.6" x2="349.3" y2="807.6" stroke="#1a1a1a" stroke-width="1.1" />
<text transform="translate(332.91 811.48) scale(1.0962 1)" font-size="10.5" font-weight="normal" fill="#000" stroke="#000" stroke-width="0.26">0</text>
<line x1="345.6" y1="781.08" x2="349.3" y2="781.08" stroke="#1a1a1a" stroke-width="1.1" />
<text transform="translate(320.13 784.95) scale(1.0962 1)" font-size="10.5" font-weight="normal" fill="#000" stroke="#000" stroke-width="0.26">500</text>
<line x1="345.6" y1="754.55" x2="349.3" y2="754.55" stroke="#1a1a1a" stroke-width="1.1" />
<text transform="translate(313.68 758.43) scale(1.0962 1)" font-size="10.5" font-weight="normal" fill="#000" stroke="#000" stroke-width="0.26">1000</text>
<line x1="345.6" y1="728.02" x2="349.3" y2="728.02" stroke="#1a1a1a" stroke-width="1.1" />
<text transform="translate(313.68 731.9) scale(1.0962 1)" font-size="10.5" font-weight="normal" fill="#000" stroke="#000" stroke-width="0.26">1500</text>
<line x1="345.6" y1="701.5" x2="349.3" y2="701.5" stroke="#1a1a1a" stroke-width="1.1" />
<text transform="translate(313.68 705.38) scale(1.0962 1)" font-size="10.5" font-weight="normal" fill="#000" stroke="#000" stroke-width="0.26">2000</text>
<line x1="349.2" y1="807.5" x2="349.2" y2="810.5" stroke="#1a1a1a" stroke-width="1.1" />
<text transform="translate(346 826.19) scale(1.0577 1)" font-size="10.82" font-weight="normal" fill="#000" stroke="#000" stroke-width="0.25">0</text>
<line x1="378.45" y1="807.5" x2="378.45" y2="810.5" stroke="#1a1a1a" stroke-width="1.1" />
<text transform="translate(375.28 826.13) scale(1.0577 1)" font-size="10.82" font-weight="normal" fill="#000" stroke="#000" stroke-width="0.25">5</text>
<line x1="407.7" y1="807.5" x2="407.7" y2="810.5" stroke="#1a1a1a" stroke-width="1.1" />
<text transform="translate(401.12 826.19) scale(1.0577 1)" font-size="10.82" font-weight="normal" fill="#000" stroke="#000" stroke-width="0.25">10</text>
<line x1="436.95" y1="807.5" x2="436.95" y2="810.5" stroke="#1a1a1a" stroke-width="1.1" />
<text transform="translate(430.4 826.13) scale(1.0577 1)" font-size="10.82" font-weight="normal" fill="#000" stroke="#000" stroke-width="0.25">15</text>
<line x1="466.2" y1="807.5" x2="466.2" y2="810.5" stroke="#1a1a1a" stroke-width="1.1" />
<text transform="translate(459.76 826.19) scale(1.0577 1)" font-size="10.82" font-weight="normal" fill="#000" stroke="#000" stroke-width="0.25">20</text>
<text transform="translate(358.61 845.05) scale(1.0389 1)" font-size="14.69" font-weight="normal" fill="#000" stroke="#000" stroke-width="0.30" >mexiletine [μM]</text>
<text transform="translate(299.1 792.26) rotate(-90) scale(1 0.8458)" font-size="15.33" font-weight="normal" fill="#000" stroke="#000" stroke-width="0.20">Δ EAD [ms]</text>
<polyline points="349.2,807.6 378.45,778.95 407.7,754.55 466.2,724.31" fill="none" stroke="#ff0000" stroke-width="1.35"/>
<path d="M378.45 783.7 L378.45 773.6 M375.25 783.7 L381.65 783.7 M375.25 773.6 L381.65 773.6" fill="none" stroke="#000" stroke-width="1.1" stroke-linejoin="round" stroke-linecap="round" />
<path d="M407.7 763.6 L407.7 745 M404.5 763.6 L410.9 763.6 M404.5 745 L410.9 745" fill="none" stroke="#000" stroke-width="1.1" stroke-linejoin="round" stroke-linecap="round" />
<path d="M466.2 734.4 L466.2 714.3 M463 734.4 L469.4 734.4 M463 714.3 L469.4 714.3" fill="none" stroke="#000" stroke-width="1.1" stroke-linejoin="round" stroke-linecap="round" />
<circle cx="349.2" cy="807.6" r="2.4" fill="#ff0000"/>
<circle cx="378.45" cy="778.95" r="2.4" fill="#ff0000"/>
<circle cx="407.7" cy="754.55" r="2.4" fill="#ff0000"/>
<circle cx="466.2" cy="724.31" r="2.4" fill="#ff0000"/>
<text transform="translate(474.28 728.15) scale(1.0475 1)" font-size="13.36" font-weight="normal" fill="#ff0000" stroke="#ff0000" stroke-width="0.20" >LQT3</text>
<text transform="translate(128.46 890.2) scale(1.0234 1)" font-size="18.3" font-weight="bold" fill="#000" stroke="#000" stroke-width="0.10" >(g)</text>
<text transform="translate(181.53 891.35) scale(1.1038 1)" font-size="14.41" font-weight="normal" fill="#000" stroke="#000" stroke-width="0.20" >LQT3 patient + mexiletine</text>
<text transform="translate(136.63 931.55) scale(0.8583 1)" font-size="15.43" font-weight="normal" fill="#000" stroke="#000" stroke-width="0.20" >V1</text>
<text transform="translate(137.03 988.95) scale(0.9083 1)" font-size="14.71" font-weight="normal" fill="#000" stroke="#000" stroke-width="0.20" >V5</text>
<text transform="translate(137.03 1039.45) scale(0.9400 1)" font-size="14.21" font-weight="normal" fill="#000" stroke="#000" stroke-width="0.20" >V6</text>
<path d="M162 901h1M164 901h1M182 901h1M184 901h1M194 901h1M202 901h1M214 901h1M222 901h1M240 901h1M246 901h1M250 901h1M274 901h1M284 901h1M308 901h1M310 901h1M314 901h1M320 901h1M334 901h1M340 901h1M352 901h1M354 901h1M356 901h1M360 901h1M378 901h1M158 903.2h1M166 903.2h1M170 903.2h1M172 903.2h1M180 903.2h1M182 903.2h1M204 903.2h1M222 903.2h1M228 903.2h1M234 903.2h1M238 903.2h1M244 903.2h1M248 903.2h1M254 903.2h1M286 903.2h1M302 903.2h1M316 903.2h1M320 903.2h1M336 903.2h1M338 903.2h1M344 903.2h1M346 903.2h1M352 903.2h1M382 903.2h1M166 905.4h1M178 905.4h1M180 905.4h1M188 905.4h1M190 905.4h1M202 905.4h1M204 905.4h1M222 905.4h1M236 905.4h1M252 905.4h1M278 905.4h1M282 905.4h1M334 905.4h1M352 905.4h1M362 905.4h1M364 905.4h1M370 905.4h1M378 905.4h1M380 905.4h1M382 905.4h1M166 907.6h1M180 907.6h1M184 907.6h1M192 907.6h1M194 907.6h1M196 907.6h1M202 907.6h1M220 907.6h1M242 907.6h1M250 907.6h1M310 907.6h1M320 907.6h1M322 907.6h1M324 907.6h1M334 907.6h1M338 907.6h1M340 907.6h1M354 907.6h1M368 907.6h1M374 907.6h1M168 909.8h1M172 909.8h1M176 909.8h1M190 909.8h1M196 909.8h1M204 909.8h1M224 909.8h1M226 909.8h1M232 909.8h1M234 909.8h1M246 909.8h1M310 909.8h1M322 909.8h1M336 909.8h1M344 909.8h1M346 909.8h1M352 909.8h1M360 909.8h1M364 909.8h1M370 909.8h1M374 909.8h1M162 912h1M164 912h1M348 912h1M286 914.2h1M306 914.2h1M342 914.2h1M190 916.4h1M292 916.4h1M306 916.4h1M190 918.6h1M236 918.6h1M300 918.6h1M310 918.6h1M324 918.6h1M356 918.6h1M194 920.8h1M292 920.8h1M170 923h1M332 923h1M382 923h1M160 927h1M162 927h1M164 927h1M170 927h1M200 927h1M206 927h1M216 927h1M222 927h1M226 927h1M228 927h1M230 927h1M232 927h1M234 927h1M244 927h1M246 927h1M248 927h1M250 927h1M254 927h1M260 927h1M262 927h1M264 927h1M266 927h1M268 927h1M286 927h1M302 927h1M308 927h1M312 927h1M314 927h1M334 927h1M356 927h1M162 929.2h1M164 929.2h1M196 929.2h1M234 929.2h1M236 929.2h1M244 929.2h1M252 929.2h1M256 929.2h1M260 929.2h1M266 929.2h1M270 929.2h1M272 929.2h1M284 929.2h1M290 929.2h1M292 929.2h1M308 929.2h1M316 929.2h1M332 929.2h1M342 929.2h1M346 929.2h1M348 929.2h1M350 929.2h1M352 929.2h1M356 929.2h1M358 929.2h1M360 929.2h1M366 929.2h1M158 931.4h1M190 931.4h1M196 931.4h1M216 931.4h1M224 931.4h1M228 931.4h1M232 931.4h1M234 931.4h1M236 931.4h1M246 931.4h1M248 931.4h1M252 931.4h1M254 931.4h1M256 931.4h1M260 931.4h1M268 931.4h1M270 931.4h1M278 931.4h1M290 931.4h1M298 931.4h1M302 931.4h1M306 931.4h1M308 931.4h1M312 931.4h1M350 931.4h1M356 931.4h1M364 931.4h1M372 931.4h1M384 931.4h1M164 933.6h1M196 933.6h1M212 933.6h1M218 933.6h1M226 933.6h1M246 933.6h1M248 933.6h1M254 933.6h1M256 933.6h1M258 933.6h1M266 933.6h1M284 933.6h1M286 933.6h1M288 933.6h1M292 933.6h1M298 933.6h1M300 933.6h1M304 933.6h1M306 933.6h1M308 933.6h1M316 933.6h1M346 933.6h1M350 933.6h1M354 933.6h1M158 935.8h1M164 935.8h1M190 935.8h1M206 935.8h1M228 935.8h1M246 935.8h1M250 935.8h1M252 935.8h1M254 935.8h1M256 935.8h1M260 935.8h1M262 935.8h1M278 935.8h1M282 935.8h1M290 935.8h1M292 935.8h1M298 935.8h1M302 935.8h1M306 935.8h1M310 935.8h1M312 935.8h1M336 935.8h1M354 935.8h1M356 935.8h1M358 935.8h1M366 935.8h1M370 935.8h1M372 935.8h1M382 935.8h1M158 938h1M160 938h1M162 938h1M202 938h1M206 938h1M214 938h1M216 938h1M224 938h1M230 938h1M232 938h1M236 938h1M246 938h1M248 938h1M254 938h1M262 938h1M264 938h1M266 938h1M268 938h1M282 938h1M288 938h1M290 938h1M298 938h1M302 938h1M312 938h1M320 938h1M346 938h1M348 938h1M352 938h1M354 938h1M362 938h1M364 938h1M382 938h1M160 940.2h1M164 940.2h1M216 940.2h1M224 940.2h1M226 940.2h1M230 940.2h1M234 940.2h1M248 940.2h1M252 940.2h1M254 940.2h1M258 940.2h1M266 940.2h1M268 940.2h1M276 940.2h1M288 940.2h1M306 940.2h1M316 940.2h1M362 940.2h1M370 940.2h1M158 942.4h1M162 942.4h1M190 942.4h1M204 942.4h1M208 942.4h1M216 942.4h1M224 942.4h1M234 942.4h1M236 942.4h1M254 942.4h1M268 942.4h1M274 942.4h1M276 942.4h1M282 942.4h1M284 942.4h1M298 942.4h1M300 942.4h1M308 942.4h1M314 942.4h1M344 942.4h1M346 942.4h1M350 942.4h1M354 942.4h1M358 942.4h1M360 942.4h1M158 944.6h1M160 944.6h1M190 944.6h1M196 944.6h1M200 944.6h1M202 944.6h1M214 944.6h1M220 944.6h1M222 944.6h1M232 944.6h1M234 944.6h1M236 944.6h1M246 944.6h1M248 944.6h1M250 944.6h1M252 944.6h1M254 944.6h1M268 944.6h1M272 944.6h1M288 944.6h1M302 944.6h1M308 944.6h1M314 944.6h1M316 944.6h1M324 944.6h1M338 944.6h1M342 944.6h1M344 944.6h1M348 944.6h1M350 944.6h1M354 944.6h1M356 944.6h1M372 944.6h1M174 954h1M176 954h1M180 954h1M184 954h1M200 954h1M202 954h1M206 954h1M232 954h1M234 954h1M244 954h1M270 954h1M274 954h1M280 954h1M298 954h1M310 954h1M332 954h1M334 954h1M338 954h1M342 954h1M344 954h1M354 954h1M356 954h1M362 954h1M364 954h1M368 954h1M176 956.2h1M198 956.2h1M200 956.2h1M202 956.2h1M208 956.2h1M232 956.2h1M234 956.2h1M240 956.2h1M254 956.2h1M258 956.2h1M282 956.2h1M284 956.2h1M298 956.2h1M310 956.2h1M312 956.2h1M314 956.2h1M328 956.2h1M334 956.2h1M354 956.2h1M356 956.2h1M368 956.2h1M370 956.2h1M178 958.4h1M180 958.4h1M184 958.4h1M202 958.4h1M204 958.4h1M214 958.4h1M240 958.4h1M248 958.4h1M254 958.4h1M256 958.4h1M260 958.4h1M296 958.4h1M300 958.4h1M302 958.4h1M326 958.4h1M352 958.4h1M354 958.4h1M162 960.6h1M186 960.6h1M198 960.6h1M200 960.6h1M202 960.6h1M208 960.6h1M220 960.6h1M256 960.6h1M258 960.6h1M282 960.6h1M306 960.6h1M316 960.6h1M336 960.6h1M340 960.6h1M344 960.6h1M360 960.6h1M368 960.6h1M372 960.6h1M382 960.6h1M200 964h1M208 964h1M210 964h1M234 964h1M236 964h1M246 964h1M264 964h1M268 964h1M270 964h1M276 964h1M278 964h1M286 964h1M294 964h1M296 964h1M300 964h1M318 964h1M322 964h1M338 964h1M350 964h1M352 964h1M354 964h1M372 964h1M182 966.2h1M200 966.2h1M206 966.2h1M210 966.2h1M216 966.2h1M218 966.2h1M220 966.2h1M230 966.2h1M234 966.2h1M270 966.2h1M274 966.2h1M284 966.2h1M288 966.2h1M310 966.2h1M314 966.2h1M318 966.2h1M352 966.2h1M356 966.2h1M366 966.2h1M198 968.4h1M204 968.4h1M206 968.4h1M212 968.4h1M232 968.4h1M234 968.4h1M246 968.4h1M276 968.4h1M294 968.4h1M202 970.6h1M204 970.6h1M206 970.6h1M212 970.6h1M236 970.6h1M246 970.6h1M250 970.6h1M270 970.6h1M292 970.6h1M294 970.6h1M316 970.6h1M320 970.6h1M324 970.6h1M338 970.6h1M350 970.6h1M356 970.6h1M370 970.6h1M202 972.8h1M204 972.8h1M212 972.8h1M230 972.8h1M232 972.8h1M236 972.8h1M274 972.8h1M300 972.8h1M314 972.8h1M322 972.8h1M324 972.8h1M338 972.8h1M350 972.8h1M352 972.8h1M354 972.8h1M356 972.8h1M372 972.8h1M182 975h1M200 975h1M204 975h1M216 975h1M234 975h1M246 975h1M252 975h1M296 975h1M298 975h1M300 975h1M318 975h1M350 975h1M366 975h1M374 975h1M376 975h1M198 977.2h1M208 977.2h1M246 977.2h1M258 977.2h1M280 977.2h1M294 977.2h1M300 977.2h1M318 977.2h1M324 977.2h1M334 977.2h1M352 977.2h1M354 977.2h1M372 977.2h1M384 977.2h1M200 979.4h1M204 979.4h1M256 979.4h1M266 979.4h1M270 979.4h1M286 979.4h1M310 979.4h1M322 979.4h1M324 979.4h1M334 979.4h1M340 979.4h1M350 979.4h1M354 979.4h1M366 979.4h1M382 979.4h1M182 981.6h1M202 981.6h1M204 981.6h1M206 981.6h1M208 981.6h1M232 981.6h1M236 981.6h1M262 981.6h1M270 981.6h1M288 981.6h1M296 981.6h1M300 981.6h1M318 981.6h1M334 981.6h1M338 981.6h1M350 981.6h1M374 981.6h1M166 987h1M190 987h1M196 987h1M206 987h1M210 987h1M230 987h1M236 987h1M254 987h1M272 987h1M290 987h1M300 987h1M304 987h1M306 987h1M310 987h1M312 987h1M324 987h1M360 987h1M366 987h1M380 987h1M382 987h1M172 989.2h1M196 989.2h1M208 989.2h1M278 989.2h1M280 989.2h1M282 989.2h1M284 989.2h1M304 989.2h1M308 989.2h1M318 989.2h1M320 989.2h1M322 989.2h1M350 989.2h1M356 989.2h1M358 989.2h1M362 989.2h1M366 989.2h1M368 989.2h1M372 989.2h1M384 989.2h1M194 991.4h1M202 991.4h1M212 991.4h1M228 991.4h1M234 991.4h1M250 991.4h1M278 991.4h1M284 991.4h1M290 991.4h1M302 991.4h1M310 991.4h1M318 991.4h1M322 991.4h1M352 991.4h1M364 991.4h1M366 991.4h1M370 991.4h1M382 991.4h1M384 991.4h1M168 993.6h1M208 993.6h1M236 993.6h1M262 993.6h1M282 993.6h1M284 993.6h1M290 993.6h1M300 993.6h1M304 993.6h1M308 993.6h1M320 993.6h1M324 993.6h1M340 993.6h1M358 993.6h1M362 993.6h1M364 993.6h1M368 993.6h1M370 993.6h1M384 993.6h1M170 995.8h1M264 995.8h1M266 995.8h1M282 995.8h1M286 995.8h1M288 995.8h1M290 995.8h1M292 995.8h1M302 995.8h1M308 995.8h1M310 995.8h1M312 995.8h1M314 995.8h1M318 995.8h1M334 995.8h1M358 995.8h1M168 998h1M170 998h1M208 998h1M212 998h1M226 998h1M236 998h1M262 998h1M266 998h1M278 998h1M280 998h1M286 998h1M312 998h1M316 998h1M320 998h1M322 998h1M324 998h1M340 998h1M362 998h1M172 1000.2h1M206 1000.2h1M208 1000.2h1M246 1000.2h1M282 1000.2h1M286 1000.2h1M292 1000.2h1M294 1000.2h1M302 1000.2h1M312 1000.2h1M320 1000.2h1M322 1000.2h1M324 1000.2h1M358 1000.2h1M360 1000.2h1M368 1000.2h1M176 1008h1M182 1008h1M184 1008h1M222 1008h1M236 1008h1M244 1008h1M254 1008h1M278 1008h1M284 1008h1M294 1008h1M368 1008h1M380 1008h1M174 1010.2h1M176 1010.2h1M178 1010.2h1M222 1010.2h1M232 1010.2h1M250 1010.2h1M252 1010.2h1M260 1010.2h1M278 1010.2h1M280 1010.2h1M300 1010.2h1M304 1010.2h1M306 1010.2h1M322 1010.2h1M328 1010.2h1M338 1010.2h1M362 1010.2h1M364 1010.2h1M374 1010.2h1M376 1010.2h1M164 1012.4h1M180 1012.4h1M184 1012.4h1M186 1012.4h1M188 1012.4h1M212 1012.4h1M230 1012.4h1M232 1012.4h1M238 1012.4h1M250 1012.4h1M254 1012.4h1M260 1012.4h1M262 1012.4h1M294 1012.4h1M380 1012.4h1M178 1014.6h1M188 1014.6h1M194 1014.6h1M222 1014.6h1M224 1014.6h1M228 1014.6h1M230 1014.6h1M234 1014.6h1M236 1014.6h1M242 1014.6h1M248 1014.6h1M250 1014.6h1M252 1014.6h1M274 1014.6h1M280 1014.6h1M328 1014.6h1M358 1014.6h1M360 1014.6h1M374 1014.6h1M380 1014.6h1M174 1016.8h1M210 1016.8h1M220 1016.8h1M230 1016.8h1M232 1016.8h1M246 1016.8h1M252 1016.8h1M260 1016.8h1M294 1016.8h1M296 1016.8h1M298 1016.8h1M302 1016.8h1M306 1016.8h1M324 1016.8h1M336 1016.8h1M372 1016.8h1M380 1016.8h1M174 1019h1M192 1019h1M194 1019h1M236 1019h1M242 1019h1M244 1019h1M256 1019h1M284 1019h1M308 1019h1M332 1019h1M334 1019h1M364 1019h1M366 1019h1M374 1019h1M380 1019h1M160 1021.2h1M178 1021.2h1M190 1021.2h1M232 1021.2h1M236 1021.2h1M240 1021.2h1M248 1021.2h1M254 1021.2h1M272 1021.2h1M274 1021.2h1M278 1021.2h1M294 1021.2h1M302 1021.2h1M320 1021.2h1M322 1021.2h1M324 1021.2h1M364 1021.2h1M174 1023.4h1M178 1023.4h1M180 1023.4h1M182 1023.4h1M206 1023.4h1M222 1023.4h1M238 1023.4h1M240 1023.4h1M244 1023.4h1M246 1023.4h1M248 1023.4h1M258 1023.4h1M276 1023.4h1M280 1023.4h1M294 1023.4h1M318 1023.4h1M324 1023.4h1M330 1023.4h1M336 1023.4h1M376 1023.4h1M380 1023.4h1M182 1025.6h1M194 1025.6h1M224 1025.6h1M232 1025.6h1M242 1025.6h1M252 1025.6h1M258 1025.6h1M272 1025.6h1M278 1025.6h1M280 1025.6h1M284 1025.6h1M288 1025.6h1M296 1025.6h1M332 1025.6h1M368 1025.6h1M376 1025.6h1M378 1025.6h1M380 1025.6h1M176 1027.8h1M178 1027.8h1M186 1027.8h1M240 1027.8h1M252 1027.8h1M280 1027.8h1M302 1027.8h1M332 1027.8h1M348 1027.8h1M380 1027.8h1M180 1030h1M186 1030h1M188 1030h1M190 1030h1M210 1030h1M236 1030h1M238 1030h1M244 1030h1M250 1030h1M256 1030h1M258 1030h1M280 1030h1M284 1030h1M360 1030h1M370 1030h1M180 1032.2h1M182 1032.2h1M184 1032.2h1M208 1032.2h1M224 1032.2h1M226 1032.2h1M242 1032.2h1M248 1032.2h1M282 1032.2h1M302 1032.2h1M334 1032.2h1M336 1032.2h1M376 1032.2h1M380 1032.2h1M160 1039h1M164 1039h1M184 1039h1M190 1039h1M232 1039h1M248 1039h1M250 1039h1M252 1039h1M282 1039h1M284 1039h1M288 1039h1M300 1039h1M312 1039h1M314 1039h1M316 1039h1M324 1039h1M358 1039h1M364 1039h1M366 1039h1M376 1039h1M158 1041.2h1M164 1041.2h1M178 1041.2h1M186 1041.2h1M232 1041.2h1M234 1041.2h1M236 1041.2h1M242 1041.2h1M246 1041.2h1M280 1041.2h1M286 1041.2h1M288 1041.2h1M290 1041.2h1M292 1041.2h1M316 1041.2h1M318 1041.2h1M358 1041.2h1M362 1041.2h1M364 1041.2h1M378 1041.2h1M158 1043.4h1M162 1043.4h1M176 1043.4h1M192 1043.4h1M194 1043.4h1M196 1043.4h1M230 1043.4h1M232 1043.4h1M234 1043.4h1M236 1043.4h1M240 1043.4h1M250 1043.4h1M292 1043.4h1M294 1043.4h1M300 1043.4h1M310 1043.4h1M312 1043.4h1M314 1043.4h1M316 1043.4h1M324 1043.4h1M360 1043.4h1M364 1043.4h1M370 1043.4h1M376 1043.4h1M158 1045.6h1M162 1045.6h1M164 1045.6h1M182 1045.6h1M184 1045.6h1M188 1045.6h1M190 1045.6h1M194 1045.6h1M196 1045.6h1M230 1045.6h1M232 1045.6h1M236 1045.6h1M250 1045.6h1M278 1045.6h1M280 1045.6h1M286 1045.6h1M290 1045.6h1M302 1045.6h1M308 1045.6h1M310 1045.6h1M312 1045.6h1M314 1045.6h1M320 1045.6h1M322 1045.6h1M324 1045.6h1M358 1045.6h1M360 1045.6h1M362 1045.6h1M364 1045.6h1M368 1045.6h1M162 1047.8h1M180 1047.8h1M194 1047.8h1M196 1047.8h1M236 1047.8h1M244 1047.8h1M246 1047.8h1M248 1047.8h1M250 1047.8h1M252 1047.8h1M280 1047.8h1M282 1047.8h1M302 1047.8h1M314 1047.8h1M316 1047.8h1M318 1047.8h1M322 1047.8h1M360 1047.8h1M364 1047.8h1M376 1047.8h1M162 1050h1M164 1050h1M176 1050h1M188 1050h1M190 1050h1M192 1050h1M196 1050h1M230 1050h1M250 1050h1M252 1050h1M282 1050h1M288 1050h1M290 1050h1M300 1050h1M312 1050h1M314 1050h1M358 1050h1M372 1050h1M162 1052.2h1M164 1052.2h1M192 1052.2h1M230 1052.2h1M232 1052.2h1M236 1052.2h1M240 1052.2h1M242 1052.2h1M252 1052.2h1M282 1052.2h1M284 1052.2h1M286 1052.2h1M288 1052.2h1M312 1052.2h1M314 1052.2h1M318 1052.2h1M358 1052.2h1" stroke="#a4a4a4" stroke-width="1" fill="none"/>
<path d="M156.3 926.2C157.75 926.13 162.72 925.9 165 925.8C167.28 925.7 168.95 926 170 925.6C171.05 925.2 171.3 923.4 171.3 923.4C171.3 923.4 171.65 923.85 172.2 926.5C172.75 929.15 174.6 939.3 174.6 939.3C174.6 939.3 175.98 935.28 176.8 933C177.62 930.72 178.13 926.95 179.5 925.6C180.87 924.25 181.58 925.02 185 924.9C188.42 924.78 195.83 924.78 200 924.9C204.17 925.02 207.38 925.3 210 925.6C212.62 925.9 214.37 926.8 215.7 926.7C217.03 926.6 214.78 925.53 218 925C221.22 924.47 228 923.93 235 923.5C242 923.07 252.5 922.63 260 922.4C267.5 922.17 275.58 922.12 280 922.1C284.42 922.08 285.13 922.07 286.5 922.3C287.87 922.53 287.53 921.88 288.2 923.5C288.87 925.12 289.8 929.82 290.5 932C291.2 934.18 292.4 936.6 292.4 936.6C292.4 936.6 293.47 933.23 294 931C294.53 928.77 294.63 924.63 295.6 923.2C296.57 921.77 295.73 922.53 299.8 922.4C303.87 922.27 311.63 922.33 320 922.4C328.37 922.47 339.48 922.52 350 922.8C360.52 923.08 377.58 923.88 383.1 924.1" fill="none" stroke="#222" stroke-width="1.6" stroke-linejoin="round" stroke-linecap="round" />
<path d="M156.2 984.1C157.67 984.18 162.68 984.4 165 984.6C167.32 984.8 170.1 985.3 170.1 985.3C170.1 985.3 172.08 970.35 172.8 966C173.52 961.65 173.97 960.43 174.4 959.2C174.83 957.97 175.03 957.47 175.4 958.6C175.77 959.73 176.1 961.62 176.6 966C177.1 970.38 178.4 984.9 178.4 984.9C178.4 984.9 181.4 984.4 185 984.3C188.6 984.2 195.5 984.37 200 984.3C204.5 984.23 209.25 984.13 212 983.9C214.75 983.67 214.83 982.63 216.5 982.9C218.17 983.17 217.25 985 222 985.5C226.75 986 237 985.8 245 985.9C253 986 262.63 986.22 270 986.1C277.37 985.98 289.2 985.2 289.2 985.2C289.2 985.2 290.67 970.1 291.2 966C291.73 961.9 292.03 961.57 292.4 960.6C292.77 959.63 293.08 959.3 293.4 960.2C293.72 961.1 293.93 961.77 294.3 966C294.67 970.23 295.6 985.6 295.6 985.6C295.6 985.6 309.27 985.47 315 985.3C320.73 985.13 326.5 984.8 330 984.6C333.5 984.4 334.33 983.95 336 984.1C337.67 984.25 337.67 985.02 340 985.5C342.33 985.98 345.5 986.55 350 987C354.5 987.45 361.25 987.83 367 988.2C372.75 988.57 381.58 989.03 384.5 989.2" fill="none" stroke="#222" stroke-width="1.6" stroke-linejoin="round" stroke-linecap="round" />
<path d="M157 1035.4C158.33 1035.47 162.6 1035.67 165 1035.8C167.4 1035.93 171.4 1036.2 171.4 1036.2C171.4 1036.2 173.17 1025.93 173.8 1023C174.43 1020.07 174.82 1019.37 175.2 1018.6C175.58 1017.83 175.75 1017.67 176.1 1018.4C176.45 1019.13 176.82 1020.13 177.3 1023C177.78 1025.87 179 1035.6 179 1035.6C179 1035.6 181.5 1036.57 185 1036.7C188.5 1036.83 195.83 1036.48 200 1036.4C204.17 1036.32 207.5 1036.57 210 1036.2C212.5 1035.83 213 1034.18 215 1034.2C217 1034.22 217 1035.82 222 1036.3C227 1036.78 237 1036.87 245 1037.1C253 1037.33 262.5 1037.55 270 1037.7C277.5 1037.85 290 1038 290 1038C290 1038 291.2 1028.9 291.6 1026C292 1023.1 292.13 1021.53 292.4 1020.6C292.67 1019.67 292.9 1019.5 293.2 1020.4C293.5 1021.3 293.83 1023.1 294.2 1026C294.57 1028.9 295.4 1037.8 295.4 1037.8C295.4 1037.8 309.23 1037.55 315 1037.3C320.77 1037.05 326.33 1036.45 330 1036.3C333.67 1036.15 334.5 1036.07 337 1036.4C339.5 1036.73 337.08 1037.9 345 1038.3C352.92 1038.7 377.92 1038.72 384.5 1038.8" fill="none" stroke="#222" stroke-width="1.6" stroke-linejoin="round" stroke-linecap="round" />
<line x1="331.9" y1="1058.4" x2="342.2" y2="1058.4" stroke="#000" stroke-width="2.4" />
<text transform="translate(344.6 1061.95) scale(0.9903 1)" font-size="11.79" font-weight="bold" fill="#000" stroke="#000" stroke-width="0.10" >100 ms</text>
</svg></body></html>
